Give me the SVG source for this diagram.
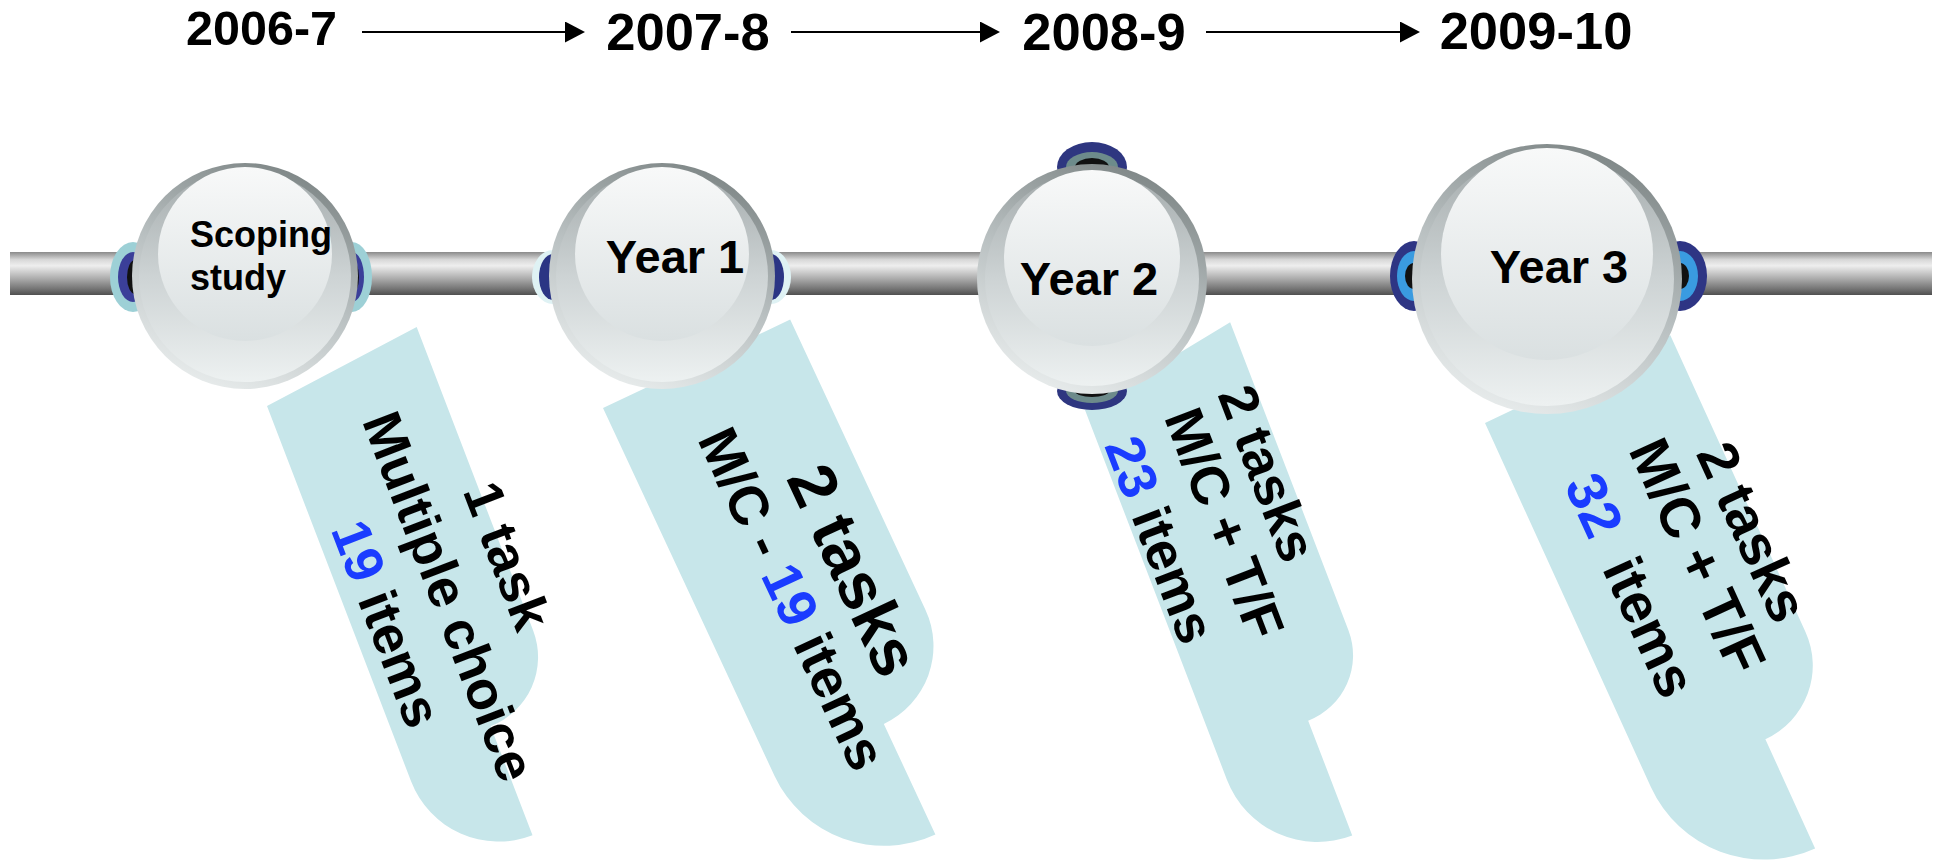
<svg xmlns="http://www.w3.org/2000/svg" width="1937" height="861" viewBox="0 0 1937 861">
<defs>
  <linearGradient id="bar" x1="0" y1="0" x2="0" y2="1">
    <stop offset="0" stop-color="#8a8a8a"/>
    <stop offset="0.18" stop-color="#d8d8d8"/>
    <stop offset="0.32" stop-color="#eeeeee"/>
    <stop offset="0.6" stop-color="#b0b0b0"/>
    <stop offset="0.85" stop-color="#767676"/>
    <stop offset="1" stop-color="#505050"/>
  </linearGradient>
  <linearGradient id="cOuter" x1="0.3" y1="1" x2="0.7" y2="0">
    <stop offset="0" stop-color="#e9eded"/>
    <stop offset="0.5" stop-color="#b9c0c1"/>
    <stop offset="1" stop-color="#7d8585"/>
  </linearGradient>
  <linearGradient id="cInner" x1="0" y1="0" x2="0" y2="1">
    <stop offset="0" stop-color="#a4abac"/>
    <stop offset="0.5" stop-color="#cdd3d4"/>
    <stop offset="1" stop-color="#edf1f1"/>
  </linearGradient>
  <linearGradient id="cHL" x1="0" y1="0" x2="0" y2="1">
    <stop offset="0" stop-color="#f8f9f9"/>
    <stop offset="1" stop-color="#dae0e1"/>
  </linearGradient>
  <marker id="ah" markerWidth="20" markerHeight="21" refX="10" refY="10.5" orient="auto" markerUnits="userSpaceOnUse">
    <path d="M0,0 L20,10.5 L0,21 Z" fill="#000"/>
  </marker>
</defs>
<style>
  .t{font-family:"Liberation Sans",Arial,Helvetica,sans-serif;font-weight:bold;fill:#000}
  .co{fill:#c7e6ea}
  .num{fill:#1a3cff}
  .arr{stroke:#000;stroke-width:2.2;fill:none}
</style>

<g id="years" class="t" text-anchor="middle">
  <text x="261.5" y="45" font-size="48.5">2006-7</text>
  <text x="688" y="50" font-size="52.5">2007-8</text>
  <text x="1104" y="50" font-size="52.5">2008-9</text>
  <text x="1536" y="49" font-size="52.5">2009-10</text>
</g>

<g id="connectors">
  <line class="arr" x1="362" y1="32" x2="575" y2="32" marker-end="url(#ah)"/>
  <line class="arr" x1="791" y1="32" x2="990" y2="32" marker-end="url(#ah)"/>
  <line class="arr" x1="1206" y1="32" x2="1410" y2="32" marker-end="url(#ah)"/>
</g>

<g id="timeline-bar">
  <rect x="10" y="252" width="1922" height="43" fill="url(#bar)"/>
</g>

<g id="callout-1" transform="translate(267,406) rotate(-21)">
  <path class="co" d="M0,0 L168,-20 L168,305 A74,74 0 0 1 94,379 L94,496 A94,94 0 0 1 0,402 Z"/>
  <g class="t" transform="rotate(90)" font-size="54" text-anchor="middle">
    <text x="226" y="-152">1 task</text>
    <text x="243" y="-83">Multiple choice</text>
    <text x="246" y="-15"><tspan class="num">19</tspan> items</text>
  </g>
</g>

<g id="callout-2" transform="translate(603,408) rotate(-25)">
  <path class="co" d="M0,0 L207,-1 L207,319 A86,86 0 0 1 121,405 L121,527 A121,121 0 0 1 0,406 Z"/>
  <g class="t" transform="rotate(90)" text-anchor="middle">
    <text x="253" y="-136" font-size="66">2 tasks</text>
    <text x="253" y="-72" font-size="55">M/C - <tspan class="num">19</tspan> items</text>
  </g>
</g>

<g id="callout-3" transform="translate(1085,410) rotate(-21)">
  <path class="co" d="M0,0 L167,-30 L167,300 A70,70 0 0 1 97,370 L97,493 A97,97 0 0 1 0,396 Z"/>
  <g class="t" transform="rotate(90)" font-size="54">
    <text x="33" y="-129">2 tasks</text>
    <text x="35" y="-71">M/C + T/F</text>
    <text x="40" y="-5"><tspan class="num">23</tspan> items</text>
  </g>
</g>

<g id="callout-4" transform="translate(1485,423) rotate(-24.5)">
  <path class="co" d="M0,0 L205,-3 L205,323 A81,81 0 0 1 124,404 L124,524 A124,124 0 0 1 0,400 Z"/>
  <g class="t" transform="rotate(90)" font-size="56" text-anchor="middle">
    <text x="210" y="-179">2 tasks</text>
    <text x="209" y="-119">M/C + T/F</text>
    <text x="208" y="-46"><tspan class="num">32</tspan><tspan dx="14"> items</tspan></text>
  </g>
</g>

<g id="node-scoping">
  <ellipse cx="133" cy="277" rx="23" ry="35" fill="#9dd0d6"/>
  <ellipse cx="133" cy="277" rx="15" ry="25" fill="#3b3f99"/>
  <ellipse cx="135" cy="277" rx="8" ry="17" fill="#111111"/>
  <ellipse cx="352" cy="277" rx="20" ry="35" fill="#9dd0d6"/>
  <ellipse cx="352" cy="277" rx="12" ry="25" fill="#3b3f99"/>
  <ellipse cx="352" cy="277" rx="7" ry="17" fill="#111111"/>
  <circle cx="245" cy="276" r="113" fill="url(#cOuter)"/>
  <circle cx="245" cy="276" r="106" fill="url(#cInner)"/>
  <circle cx="245" cy="254" r="87" fill="url(#cHL)"/>
  <text class="t" x="190" y="247" font-size="36">Scoping</text>
  <text class="t" x="190" y="290" font-size="36">study</text>
</g>

<g id="node-year1">
  <ellipse cx="553" cy="277" rx="21" ry="27" fill="#dff2f4"/>
  <ellipse cx="553" cy="277" rx="14" ry="23" fill="#2b3584"/>
  <ellipse cx="771" cy="277" rx="20" ry="27" fill="#dff2f4"/>
  <ellipse cx="771" cy="277" rx="13" ry="23" fill="#2b3584"/>
  <circle cx="662" cy="276" r="113" fill="url(#cOuter)"/>
  <circle cx="662" cy="276" r="106" fill="url(#cInner)"/>
  <circle cx="662" cy="254" r="87" fill="url(#cHL)"/>
  <text class="t" x="675" y="273" font-size="47" text-anchor="middle">Year 1</text>
</g>

<g id="node-year2">
  <ellipse cx="1092" cy="167" rx="35" ry="25" fill="#2e3680"/>
  <ellipse cx="1092" cy="167" rx="26" ry="15" fill="#6d8b8b"/>
  <ellipse cx="1092" cy="167" rx="17" ry="9" fill="#111111"/>
  <ellipse cx="1092" cy="391" rx="35" ry="19" fill="#2e3680"/>
  <ellipse cx="1092" cy="391" rx="26" ry="12" fill="#6d8b8b"/>
  <ellipse cx="1092" cy="391" rx="17" ry="6" fill="#111111"/>
  <circle cx="1092" cy="279" r="115" fill="url(#cOuter)"/>
  <circle cx="1092" cy="279" r="107" fill="url(#cInner)"/>
  <circle cx="1092" cy="258" r="88" fill="url(#cHL)"/>
  <text class="t" x="1089" y="295" font-size="47" text-anchor="middle">Year 2</text>
</g>

<g id="node-year3">
  <ellipse cx="1414" cy="276" rx="24" ry="35" fill="#2e3584"/>
  <ellipse cx="1414" cy="276" rx="17" ry="25" fill="#3a9be0"/>
  <ellipse cx="1414" cy="276" rx="9" ry="13" fill="#111111"/>
  <ellipse cx="1680" cy="276" rx="27" ry="35" fill="#2e3584"/>
  <ellipse cx="1680" cy="276" rx="18" ry="25" fill="#3a9be0"/>
  <ellipse cx="1680" cy="276" rx="9" ry="13" fill="#111111"/>
  <circle cx="1547" cy="279" r="135" fill="url(#cOuter)"/>
  <circle cx="1547" cy="279" r="127" fill="url(#cInner)"/>
  <circle cx="1547" cy="254" r="106" fill="url(#cHL)"/>
  <text class="t" x="1559" y="283" font-size="47" text-anchor="middle">Year 3</text>
</g>
</svg>
